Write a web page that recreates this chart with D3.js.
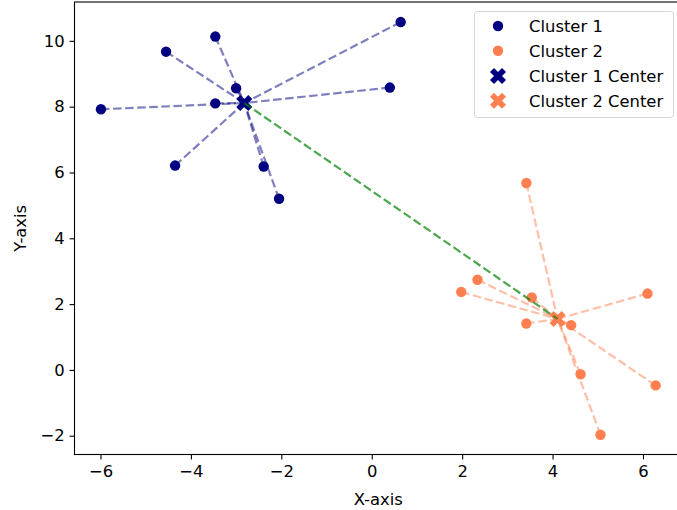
<!DOCTYPE html>
<html>
<head>
<meta charset="utf-8">
<script src="https://cdn.jsdelivr.net/npm/d3@7"></script>
<style>
  body { margin: 0; background: #fff; }
  svg { display: block; }
  svg text { font-family: 'DejaVu Sans'; }
</style>
</head>
<body>
<svg id="chart" width="677" height="510"></svg>
<script>
// ---- data ----
const cluster1X = [-5.99, -4.55, -3.46, -3.00, -3.46, 0.40, 0.64, -4.35, -2.39, -2.05];
const cluster1Y = [7.92, 9.67, 10.13, 8.56, 8.10, 8.58, 10.57, 6.21, 6.18, 5.20];
const cluster2X = [3.42, 2.34, 1.98, 3.54, 3.42, 4.41, 6.10, 6.28, 4.62, 5.06];
const cluster2Y = [5.68, 2.74, 2.37, 2.20, 1.41, 1.36, 2.32, -0.47, -0.13, -1.97];
const centerX = [-2.82, 4.11];
const centerY = [8.11, 1.55];
const seriesNames = ["Cluster 1", "Cluster 2", "Cluster 1 Center", "Cluster 2 Center"];
const seriesColors = ["#000080", "#FF7F50"];
const xTicks = [-6, -4, -2, 0, 2, 4, 6];
const yTicks = [-2, 0, 2, 4, 6, 8, 10];

const clusters = [
  cluster1X.map((x, i) => ({x, y: cluster1Y[i]})),
  cluster2X.map((x, i) => ({x, y: cluster2Y[i]}))
];
const centers = centerX.map((x, i) => ({x, y: centerY[i]}));

// ---- layout ----
const FONT = "DejaVu Sans";
const FS = "16.4px";
const svg = d3.select("#chart");
const L = 74.5, T = 2, R = 682, B = 454.5;
const x = d3.scaleLinear().domain([-6.575, 6.863]).range([L, R]);
const y = d3.scaleLinear().domain([-2.57, 11.18]).range([B, T]);

const plot = svg.append("g");

// lines from points to their centers
clusters.forEach((pts, ci) => {
  plot.selectAll(null).data(pts).enter().append("line")
    .attr("x1", d => x(d.x)).attr("y1", d => y(d.y))
    .attr("x2", x(centers[ci].x)).attr("y2", y(centers[ci].y))
    .attr("stroke", seriesColors[ci]).attr("stroke-opacity", 0.5)
    .attr("stroke-width", 2.2).attr("stroke-dasharray", "8.5,3.6");
});

// scatter points
clusters.forEach((pts, ci) => {
  plot.selectAll(null).data(pts).enter().append("circle")
    .attr("cx", d => x(d.x)).attr("cy", d => y(d.y))
    .attr("r", 5.2).attr("fill", seriesColors[ci]);
});

// filled X marker path
function xMarker(s) {
  const a = s, b = s * 0.5;
  return `M${-a},${-a + b}L${-a + b},${-a}L0,${-b}L${a - b},${-a}L${a},${-a + b}L${b},0L${a},${a - b}L${a - b},${a}L0,${b}L${-a + b},${a}L${-a},${a - b}L${-b},0Z`;
}

plot.selectAll(null).data(centers).enter().append("path")
  .attr("d", xMarker(8))
  .attr("transform", d => `translate(${x(d.x)},${y(d.y)})`)
  .attr("fill", (d, i) => seriesColors[i]);

// line between centers
plot.append("line")
  .attr("x1", x(centers[0].x)).attr("y1", y(centers[0].y))
  .attr("x2", x(centers[1].x)).attr("y2", y(centers[1].y))
  .attr("stroke", "green").attr("stroke-opacity", 0.7)
  .attr("stroke-width", 2.2).attr("stroke-dasharray", "8.5,3.6");

// ---- axes ----
const xAxis = svg.append("g").attr("transform", `translate(0,${B})`)
  .call(d3.axisBottom(x).tickValues(xTicks).tickSize(4.9).tickPadding(5.5).tickFormat(d3.format("")));
const yAxis = svg.append("g").attr("transform", `translate(${L},0)`)
  .call(d3.axisLeft(y).tickValues(yTicks).tickSize(4.9).tickPadding(4.9).tickFormat(d3.format("")));
[xAxis, yAxis].forEach(g => {
  g.attr("font-family", FONT).attr("font-size", FS);
  g.select(".domain").remove();
  g.selectAll(".tick line").attr("stroke", "#000").attr("stroke-width", 1.1);
  g.selectAll(".tick text").attr("fill", "#000");
});

// spines
svg.append("rect").attr("x", L).attr("y", T).attr("width", R - L).attr("height", B - T)
  .attr("fill", "none").attr("stroke", "#000").attr("stroke-width", 1.1);

// axis labels
svg.append("text").attr("x", (L + R) / 2).attr("y", 505)
  .attr("text-anchor", "middle").attr("font-family", FONT).attr("font-size", FS).attr("fill", "#000").text("X-axis");
svg.append("text").attr("transform", `translate(26,${(T + B) / 2}) rotate(-90)`)
  .attr("text-anchor", "middle").attr("font-family", FONT).attr("font-size", FS).attr("fill", "#000").text("Y-axis");

// ---- legend ----
const lg = svg.append("g");
lg.append("rect").attr("x", 474.5).attr("y", 11.5).attr("width", 199).attr("height", 106)
  .attr("rx", 3).attr("fill", "#fff").attr("fill-opacity", 0.8)
  .attr("stroke", "#d6d6d6").attr("stroke-width", 1);
const rowY = [26, 50.7, 76, 100.7];
seriesNames.forEach((name, i) => {
  const cy = rowY[i];
  const col = seriesColors[i % 2];
  if (i < 2) {
    lg.append("circle").attr("cx", 498).attr("cy", cy).attr("r", 5.2).attr("fill", col);
  } else {
    lg.append("path").attr("d", xMarker(8)).attr("transform", `translate(498,${cy})`).attr("fill", col);
  }
  lg.append("text").attr("x", 529).attr("y", cy).attr("dy", "0.36em")
    .attr("font-family", FONT).attr("font-size", FS).attr("fill", "#000").text(name);
});
</script>
</body>
</html>
